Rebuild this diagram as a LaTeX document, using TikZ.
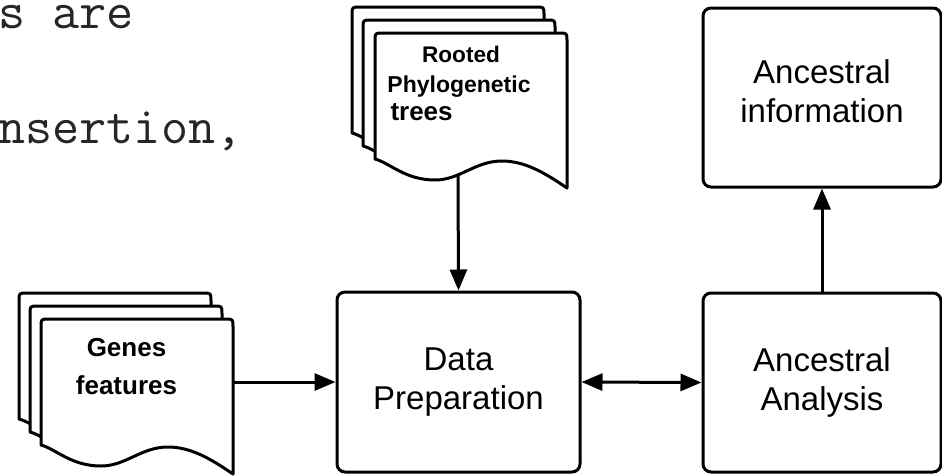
\documentclass[tikz,border=0pt]{standalone}
\usepackage{fontspec}
\setmainfont{Liberation Sans}
\usetikzlibrary{arrows.meta}
\newcommand\docsheet[2]{%
  \draw[sheetline,shift={(#1,#2)}] (0,126) -- (0,8) .. controls (0,0) .. (8,0) -- (184,0) .. controls (192,0) .. (192,8) -- (192,155)
    .. controls (170,140) and (150,128) .. (127,128)
    .. controls (100,128) and (85,147) .. (60,147)
    .. controls (30,147) and (15,130) .. (0,126) -- cycle;}
\begin{document}
\begin{tikzpicture}[x=1pt,y=-1pt,line width=3pt,
  sheetline/.style={draw=black,fill=white,line width=3pt,line join=round},
  procbox/.style={draw=black,line width=3pt,rounded corners=8pt,fill=white,
    minimum width=240pt,minimum height=180pt,inner sep=0pt,align=center,
    font=\fontsize{33}{39}\selectfont},
  doctext/.style={inner sep=0pt,font=\bfseries},
  monotext/.style={inner sep=0pt,anchor=base west,text=black!85,font=\ttfamily\fontsize{52.6}{52.6}\selectfont},
  flow/.style={draw=black,line width=3pt,-{Triangle[length=21pt,width=17pt]}},
  bothflow/.style={draw=black,line width=3pt,{Triangle[length=21pt,width=17pt]}-{Triangle[length=21pt,width=17pt]}}]
\useasboundingbox (0,0) rectangle (942,475);
\clip (0,0) rectangle (942,475);
\fill[white] (0,0) rectangle (942,475);

% clipped slide text
\node[monotext] (mono1) at (-3,28) {s are};
\node[monotext] (mono2) at (-3,143) {nsertion,};

% document stacks
\docsheet{352}{7}
\docsheet{363}{20}
\docsheet{375}{33}
\docsheet{19}{293}
\docsheet{30}{306}
\docsheet{41}{319}

\node[doctext,anchor=base,font=\bfseries\fontsize{22.6}{22.6}\selectfont] (rt) at (461,62) {Rooted};
\node[doctext,anchor=base,font=\bfseries\fontsize{23}{23}\selectfont] (ph) at (459,92) {Phylogenetic};
\node[doctext,anchor=base west,font=\bfseries\fontsize{26}{26}\selectfont] (tr) at (389,120) {trees};
\node[doctext,align=center,font=\bfseries\fontsize{26}{38}\selectfont] (genes) at (126.5,366.5) {Genes\\features};

\coordinate (rootout) at (458,174);
\coordinate (genesout) at (232,382);

% process boxes
\node[procbox,minimum width=243pt] (dp) at (458.5,382) {Data\\Preparation};
\node[procbox,minimum width=238pt,minimum height=179pt] (aa) at (822,382.5) {Ancestral\\Analysis};
\node[procbox,minimum width=238pt,minimum height=179pt] (ai) at (822,97.5) {Ancestral\\information\rule[-13pt]{0pt}{1pt}};

% connectors
\draw[flow] (rootout) -- (dp.north);
\draw[flow] (genesout) -- (dp.west);
\draw[bothflow] (dp.east) -- (aa.west);
\draw[flow] (aa.north) -- (ai.south);
\end{tikzpicture}
\end{document}
